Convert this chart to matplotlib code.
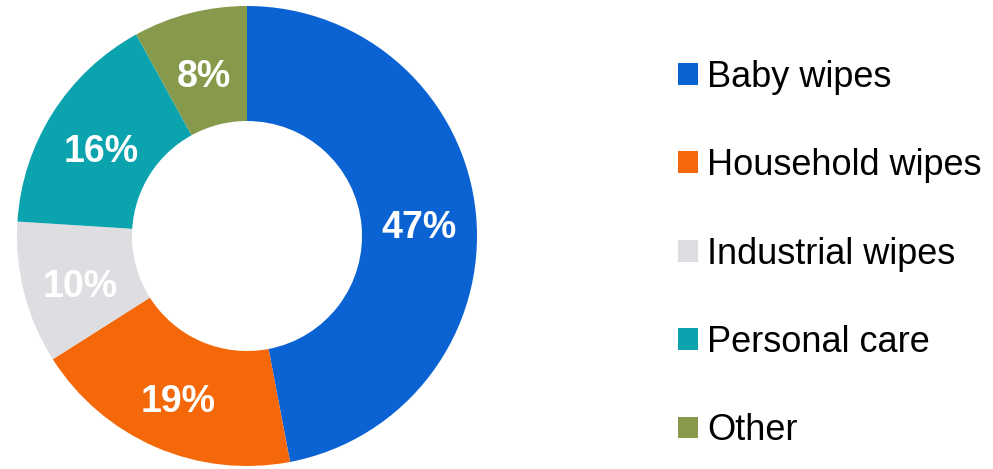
import matplotlib
matplotlib.use('Agg')
import matplotlib.pyplot as plt

plt.rcParams['font.family'] = ['Liberation Sans', 'DejaVu Sans']

# datos del grafico de dona
categorias = ['Baby wipes', 'Household wipes', 'Industrial wipes', 'Personal care', 'Other']
porcentajes = [47, 19, 10, 16, 8]
colores = ['#0B62D2', '#F5680A', '#DEDEE2', '#0AA3AE', '#879A4B']

W, H = 993, 469
fig = plt.figure(figsize=(W / 100, H / 100), dpi=100)

# ejes cuadrados para la dona (centro ~ (247, 236) px, radio ~230 px)
cx, cy, r = 247, 236, 230
ax = fig.add_axes([(cx - r) / W, (H - cy - r) / H, 2 * r / W, 2 * r / H])

wedges, textos, autotextos = ax.pie(
    porcentajes, colors=colores, startangle=90, counterclock=False,
    radius=1, wedgeprops=dict(width=0.5, edgecolor='none'),
    autopct='%d%%', pctdistance=0.75,
    textprops=dict(color='white', fontsize=27, fontweight='bold'))
# las etiquetas quedan un poco mas abajo en el original
for t in autotextos:
    x, y = t.get_position()
    t.set_position((x, y - 0.035))
ax.set_xlim(-1, 1)
ax.set_ylim(-1, 1)
ax.set_aspect('equal')
ax.axis('off')

# leyenda a la derecha
fig.legend(wedges, categorias, loc='center left',
           bbox_to_anchor=(678 / W, (H - 254) / H),
           frameon=False, fontsize=26, borderpad=0, borderaxespad=0,
           handlelength=0.55, handleheight=0.55, handletextpad=0.25,
           labelspacing=1.48)

plt.savefig('out.png', dpi=100)
